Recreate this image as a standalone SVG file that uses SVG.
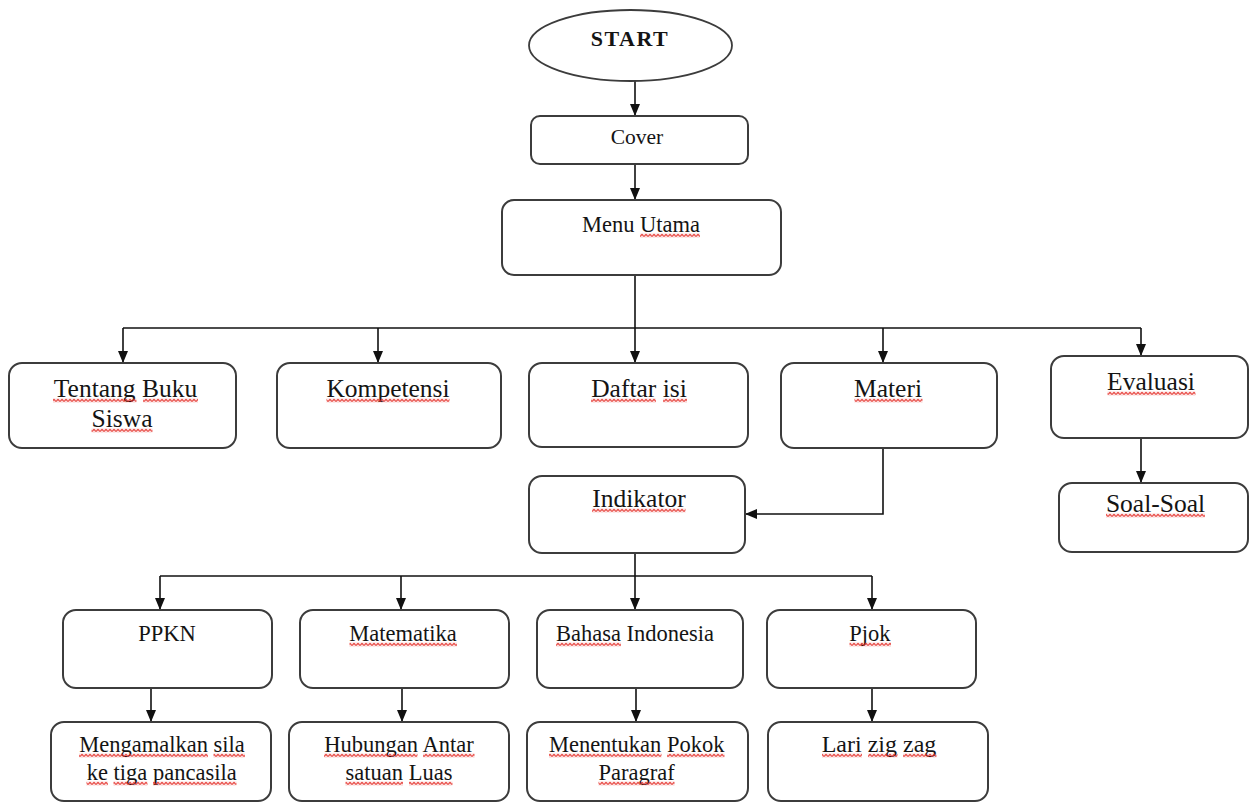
<svg xmlns="http://www.w3.org/2000/svg" width="1250" height="803" viewBox="0 0 1250 803">
  <defs>
    <style>
      .box { fill: #ffffff; stroke: #3c3c3c; stroke-width: 2; }
      .term { fill: #ffffff; stroke: #3c3c3c; stroke-width: 1.8; }
      .lbl { font-family: "Liberation Serif", "Times New Roman", serif; font-size: 22.5px; fill: #141414; text-anchor: middle; }
      .big { font-size: 25.5px; }
      .title { font-weight: bold; font-size: 22px; letter-spacing: 1.5px; }
      .wire { fill: none; stroke: #111111; stroke-width: 1.6; }
      .arrow { fill: none; stroke: #111111; stroke-width: 1.6; marker-end: url(#head); }
      .sq { fill: url(#squiggle); }
    </style>
    <marker id="head" viewBox="0 0 12 10" refX="12" refY="5" markerWidth="12" markerHeight="10" markerUnits="userSpaceOnUse" orient="auto">
      <path d="M0 0 L12 5 L0 10 Z" fill="#111111"/>
    </marker>
    <!-- red wavy spell-check underline -->
    <pattern id="squiggle" patternUnits="userSpaceOnUse" width="4" height="4">
      <path d="M0 3.2 L2 0.8 L4 3.2" fill="none" stroke="#e32a24" stroke-width="1.2"/>
    </pattern>
  </defs>

  <rect width="1250" height="803" fill="#ffffff"/>

  <!-- connectors -->
  <g id="connectors">
    <path class="arrow" d="M635 81 V116"/>
    <path class="arrow" d="M635 164 V200"/>
    <path class="wire" d="M123 328 H1141"/>
    <path class="arrow" d="M635 275 V363"/>
    <path class="arrow" d="M123 328 V363"/>
    <path class="arrow" d="M378 328 V363"/>
    <path class="arrow" d="M883 328 V363"/>
    <path class="arrow" d="M1141 328 V356"/>
    <path class="arrow" d="M883 448 V514 H745"/>
    <path class="arrow" d="M1141 438 V483"/>
    <path class="wire" d="M160 576 H872"/>
    <path class="arrow" d="M635 553 V610"/>
    <path class="arrow" d="M160 576 V610"/>
    <path class="arrow" d="M401 576 V610"/>
    <path class="arrow" d="M872 576 V610"/>
    <path class="arrow" d="M151 688 V722"/>
    <path class="arrow" d="M402 688 V722"/>
    <path class="arrow" d="M636 688 V722"/>
    <path class="arrow" d="M872 688 V722"/>
  </g>

  <g id="start">
    <ellipse class="term" cx="630.5" cy="45.5" rx="101.5" ry="35.5"/>
    <text class="lbl title" x="630" y="46">START</text>
  </g>

  <g id="cover">
    <rect class="box" x="531" y="116" width="217" height="48" rx="9"/>
    <text class="lbl" x="637" y="144" style="font-size:21.5px">Cover</text>
  </g>

  <g id="menu-utama">
    <rect class="box" x="502" y="200" width="279" height="75" rx="12"/>
    <text class="lbl" x="641" y="232">Menu Utama</text>
    <g transform="translate(0,233.5)"><rect class="sq" x="640" y="0" width="60" height="4"/></g>
  </g>

  <g id="tentang-buku-siswa">
    <rect class="box" x="9" y="363" width="227" height="85" rx="13"/>
    <text class="lbl big" x="125.5" y="397">Tentang Buku</text>
    <text class="lbl big" x="122" y="427">Siswa</text>
    <g transform="translate(0,398.5)">
      <rect class="sq" x="53" y="0" width="83.5" height="4"/>
      <rect class="sq" x="143" y="0" width="55" height="4"/>
    </g>
    <g transform="translate(0,428.5)"><rect class="sq" x="91.5" y="0" width="61" height="4"/></g>
  </g>

  <g id="kompetensi">
    <rect class="box" x="277" y="363" width="224" height="85" rx="13"/>
    <text class="lbl big" x="388" y="397">Kompetensi</text>
    <g transform="translate(0,398.5)"><rect class="sq" x="326.5" y="0" width="123" height="4"/></g>
  </g>

  <g id="daftar-isi">
    <rect class="box" x="529" y="363" width="219" height="84" rx="13"/>
    <text class="lbl big" x="639" y="397">Daftar isi</text>
    <g transform="translate(0,398.5)">
      <rect class="sq" x="591" y="0" width="65" height="4"/>
      <rect class="sq" x="663" y="0" width="24" height="4"/>
    </g>
  </g>

  <g id="materi">
    <rect class="box" x="781" y="363" width="216" height="85" rx="13"/>
    <text class="lbl big" x="888" y="397">Materi</text>
    <g transform="translate(0,398.5)"><rect class="sq" x="854.5" y="0" width="68" height="4"/></g>
  </g>

  <g id="evaluasi">
    <rect class="box" x="1051" y="356" width="197" height="82" rx="13"/>
    <text class="lbl big" x="1151" y="390">Evaluasi</text>
    <g transform="translate(0,391.5)"><rect class="sq" x="1107.5" y="0" width="88" height="4"/></g>
  </g>

  <g id="indikator">
    <rect class="box" x="529" y="476" width="216" height="77" rx="13"/>
    <text class="lbl big" x="639" y="507">Indikator</text>
    <g transform="translate(0,508.5)"><rect class="sq" x="592" y="0" width="93.5" height="4"/></g>
  </g>

  <g id="soal-soal">
    <rect class="box" x="1059" y="483" width="189" height="69" rx="13"/>
    <text class="lbl big" x="1155.5" y="512">Soal-Soal</text>
    <g transform="translate(0,513.5)"><rect class="sq" x="1106" y="0" width="99" height="4"/></g>
  </g>

  <g id="ppkn">
    <rect class="box" x="63" y="610" width="209" height="78" rx="13"/>
    <text class="lbl" x="167" y="641">PPKN</text>
  </g>

  <g id="matematika">
    <rect class="box" x="300" y="610" width="209" height="78" rx="13"/>
    <text class="lbl" x="403" y="641">Matematika</text>
    <g transform="translate(0,642.5)"><rect class="sq" x="349.5" y="0" width="107.5" height="4"/></g>
  </g>

  <g id="bahasa-indonesia">
    <rect class="box" x="537" y="610" width="206" height="78" rx="13"/>
    <text class="lbl" x="635" y="641">Bahasa Indonesia</text>
    <g transform="translate(0,642.5)"><rect class="sq" x="556" y="0" width="65" height="4"/></g>
  </g>

  <g id="pjok">
    <rect class="box" x="767" y="610" width="209" height="78" rx="13"/>
    <text class="lbl" x="870" y="641">Pjok</text>
    <g transform="translate(0,642.5)"><rect class="sq" x="849.5" y="0" width="41.5" height="4"/></g>
  </g>

  <g id="mengamalkan-sila">
    <rect class="box" x="51" y="722" width="220" height="79" rx="13"/>
    <text class="lbl" x="162" y="752">Mengamalkan sila</text>
    <text class="lbl" x="161.7" y="780">ke tiga pancasila</text>
    <g transform="translate(0,753.5)">
      <rect class="sq" x="79" y="0" width="129" height="4"/>
      <rect class="sq" x="213.5" y="0" width="31.5" height="4"/>
    </g>
    <g transform="translate(0,781.5)">
      <rect class="sq" x="86.5" y="0" width="21.5" height="4"/>
      <rect class="sq" x="113.5" y="0" width="34" height="4"/>
      <rect class="sq" x="153" y="0" width="83.5" height="4"/>
    </g>
  </g>

  <g id="hubungan-antar-satuan-luas">
    <rect class="box" x="289" y="722" width="220" height="79" rx="13"/>
    <text class="lbl" x="399" y="752">Hubungan Antar</text>
    <text class="lbl" x="399" y="780">satuan Luas</text>
    <g transform="translate(0,753.5)">
      <rect class="sq" x="324" y="0" width="93.5" height="4"/>
      <rect class="sq" x="423" y="0" width="51.5" height="4"/>
    </g>
    <g transform="translate(0,781.5)">
      <rect class="sq" x="345.5" y="0" width="57.5" height="4"/>
      <rect class="sq" x="409" y="0" width="43.5" height="4"/>
    </g>
  </g>

  <g id="menentukan-pokok-paragraf">
    <rect class="box" x="527" y="722" width="221" height="79" rx="13"/>
    <text class="lbl" x="636.7" y="752">Menentukan Pokok</text>
    <text class="lbl" x="636.7" y="780">Paragraf</text>
    <g transform="translate(0,753.5)">
      <rect class="sq" x="549" y="0" width="112.5" height="4"/>
      <rect class="sq" x="667" y="0" width="57.5" height="4"/>
    </g>
    <g transform="translate(0,781.5)"><rect class="sq" x="598.5" y="0" width="76" height="4"/></g>
  </g>

  <g id="lari-zig-zag">
    <rect class="box" x="768" y="722" width="220" height="79" rx="13"/>
    <text class="lbl" x="879" y="752" style="font-size:24px">Lari zig zag</text>
    <g transform="translate(0,753.5)">
      <rect class="sq" x="822" y="0" width="40" height="4"/>
      <rect class="sq" x="868" y="0" width="29.5" height="4"/>
      <rect class="sq" x="903" y="0" width="33.5" height="4"/>
    </g>
  </g>
</svg>
